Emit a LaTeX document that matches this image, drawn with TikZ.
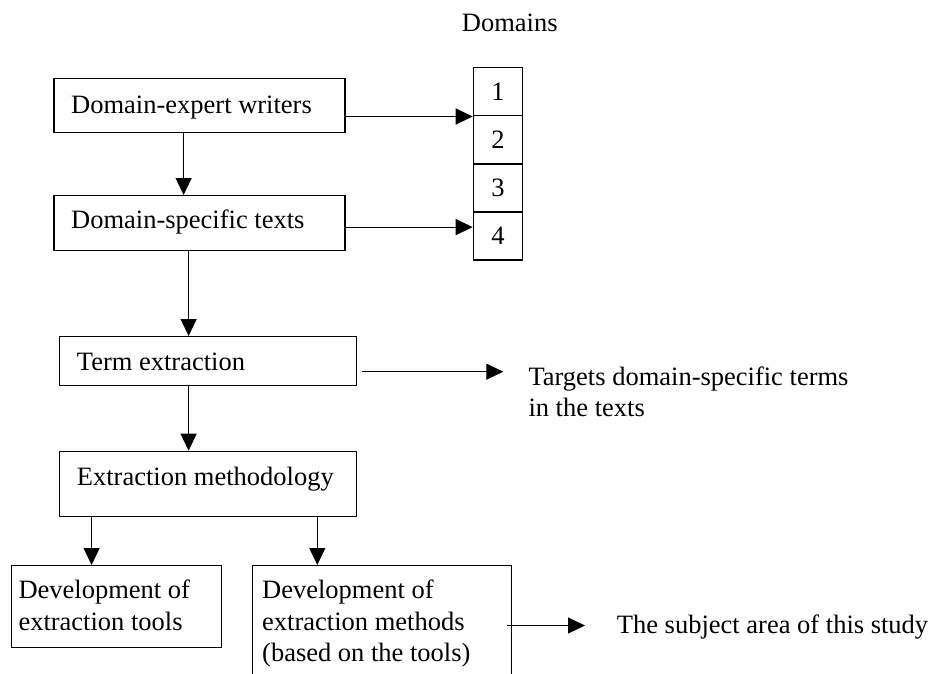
\documentclass[tikz,border=0pt]{standalone}
\usepackage{fontspec}
\setmainfont{Liberation Serif}
\usetikzlibrary{arrows.meta}
\begin{document}
\begin{tikzpicture}[x=1pt,y=-1pt,
  font=\fontsize{26.5}{31.7}\selectfont,
  box/.style={draw, line width=1.2pt, inner sep=0pt, anchor=north west},
  cell/.style={draw, line width=1.2pt, inner sep=0pt, minimum width=49.3pt, minimum height=48pt, anchor=north west},
  lbl/.style={inner sep=0pt, anchor=base west},
  arr/.style={line width=1.1pt, -{Triangle[length=17pt,width=16pt]}}]
\useasboundingbox (0,0) rectangle (934,674);
\clip (0,0) rectangle (934,674);
% boxes
\node[box, minimum width=291pt, minimum height=53.4pt] (b1) at (53.3,78.3) {};
\node[box, minimum width=291pt, minimum height=55pt] (b2) at (53.3,195) {};
\node[box, minimum width=297pt, minimum height=49pt] (b3) at (58.7,336) {};
\node[box, minimum width=297pt, minimum height=65.3pt] (b4) at (58.7,450.7) {};
\node[box, minimum width=210pt, minimum height=81.7pt] (b5) at (10.7,565) {};
\node[box, minimum width=259pt, minimum height=130pt] (b6) at (252,565) {};
% domain cells
\node[cell] (c1) at (472.7,67.3) {1};
\node[cell] (c2) at (472.7,115.3) {2};
\node[cell] (c3) at (472.7,163.3) {3};
\node[cell] (c4) at (472.7,211.3) {4};
% texts
\node[lbl] (dom) at (461.7,31.7) {Domains};
\node[lbl] (tb1) at (71,113.3) {Domain-expert writers};
\node[lbl] (tb2) at (71,228.3) {Domain-specific texts};
\node[lbl] (tb3) at (76.7,370.7) {Term extraction};
\node[lbl] (tb4) at (76.7,485) {Extraction methodology};
\node[lbl] (tb5a) at (18.3,598.3) {Development of};
\node[lbl] (tb5b) at (18.3,630) {extraction tools};
\node[lbl] (tb6a) at (262,598.3) {Development of};
\node[lbl] (tb6b) at (262,630) {extraction methods};
\node[lbl] (tb6c) at (262,661.5) {(based on the tools)};
\node[lbl] (tg1) at (528.3,385) {Targets domain-specific terms};
\node[lbl] (tg2) at (528.3,416.7) {in the texts};
\node[lbl] (sub) at (616.7,633) {The subject area of this study};
% free ends
\coordinate (t3) at (503.3,371.7);
\coordinate (t6) at (585,625.5);
% connectors
\draw[arr] (b1.east |- c1.south) -- (c1.south west);
\draw[arr] ([yshift=-4pt]b2.east) -- ([yshift=-4pt]b2.east -| c4.west);
\draw[arr] ([xshift=-15.8pt]b1.south) -- ([xshift=-15.8pt]b1.south |- b2.north);
\draw[arr] ([xshift=-10.8pt]b2.south) -- ([xshift=-10.8pt]b2.south |- b3.north);
\draw[arr] ([xshift=-19.2pt]b3.south) -- ([xshift=-19.2pt]b3.south |- b4.north);
\draw[arr] ([xshift=-116.2pt]b4.south) -- ([xshift=-116.2pt]b4.south |- b5.north);
\draw[arr] ([xshift=109.5pt]b4.south) -- ([xshift=109.5pt]b4.south |- b6.north);
\draw[arr] ([xshift=5pt]b3.east |- t3) -- (t3);
\draw[arr] ([xshift=-5pt]b6.east |- t6) -- (t6);
\end{tikzpicture}
\end{document}
